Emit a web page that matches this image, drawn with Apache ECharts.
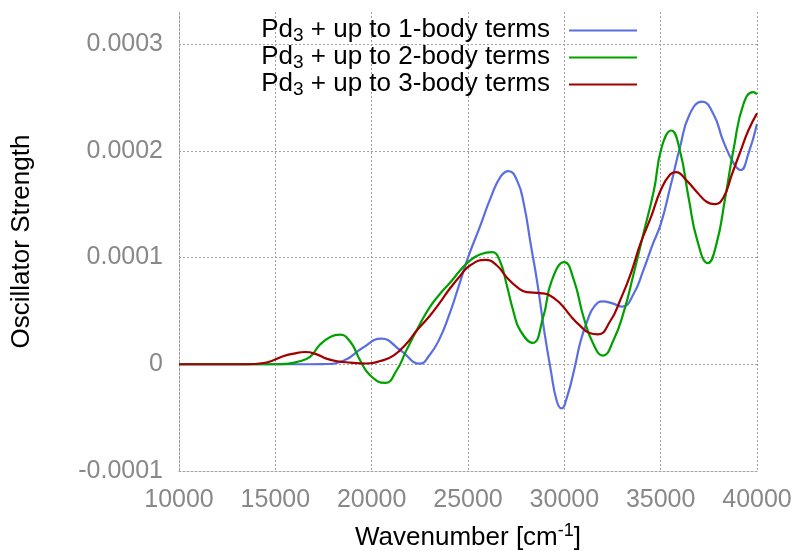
<!DOCTYPE html>
<html>
<head>
<meta charset="utf-8">
<script src="https://cdn.jsdelivr.net/npm/echarts@6/dist/echarts.min.js"></script>
<style>
  html, body { margin: 0; padding: 0; background: #fff; }
  #chart { width: 797px; height: 551px; }
</style>
</head>
<body>
<div id="chart"></div>
<script>
// series names
const names = ['Pd3 + up to 1-body terms', 'Pd3 + up to 2-body terms', 'Pd3 + up to 3-body terms'];

// 1-body (blue)
const wn1 = [10000, 16000, 17500, 18500, 19500, 20500, 21500, 22500, 23000, 23500, 24000, 24500, 25000,
  25600, 26200, 26700, 27100, 27550, 27900, 28250, 28600, 28950, 29300, 29600, 29850, 30150, 30500,
  30850, 31200, 31550, 32000, 32500, 33000, 33600, 34100, 34600, 35000, 35500, 36000, 36500, 37150,
  37750, 38250, 38800, 39150, 39550, 40000];
const osc1 = [0, 0, 0.0000002, 0.000003, 0.000015, 0.000024, 0.000013, 0.0000005, 0.0000084, 0.000023,
  0.000045, 0.000072, 0.0001, 0.000128, 0.000157, 0.000176, 0.000181, 0.000172, 0.00015, 0.000113,
  0.000076, 0.000032, -0.000006, -0.000034, -0.0000414, -0.00003, -0.000006, 0.000022, 0.000041,
  0.000054, 0.000059, 0.000057, 0.000054, 0.000066, 0.000088, 0.000113, 0.000131, 0.000166, 0.000203,
  0.000234, 0.000246, 0.000234, 0.000209, 0.000188, 0.000182, 0.000197, 0.000225];

// 2-body (green)
const wn2 = [10000, 15000, 15500, 16100, 16800, 17300, 17850, 18350, 18900, 19400, 19900, 20700, 21300,
  21800, 22400, 23000, 23550, 24100, 24600, 25100, 25650, 26250, 26650, 27000, 27350, 27700, 28350,
  28900, 29350, 30000, 30500, 31000, 31500, 32000, 32550, 33100, 33600, 34100, 34650, 35050, 35550,
  36000, 36450, 36900, 37450, 37900, 38350, 38800, 39300, 39800, 40000];
const osc2 = [0, 0, 0.0000003, 0.000002, 0.000007, 0.000018, 0.0000255, 0.0000277, 0.0000208, 0.0000037,
  -0.00001, -0.0000175, -0.0000056, 0.000013, 0.000034, 0.000053, 0.000066, 0.000077, 0.000088, 0.000097,
  0.000103, 0.000105, 0.000097, 0.000075, 0.00005, 0.000032, 0.00002, 0.000044, 0.0000785, 0.0000956,
  0.0000785, 0.000044, 0.0000193, 0.0000081, 0.0000224, 0.00005, 0.000085, 0.000122, 0.000163, 0.000203,
  0.000219, 0.0002, 0.000156, 0.000116, 0.0000947, 0.000113, 0.000156, 0.000203, 0.000244, 0.000255,
  0.000253];

// 3-body (red)
const wn3 = [10000, 13500, 14400, 14900, 15400, 15950, 16550, 17150, 17650, 18200, 18900, 19750, 20450,
  21150, 21800, 22350, 23000, 23550, 24050, 24600, 25100, 25900, 26500, 27000, 27550, 28050, 28750,
  29250, 29800, 30300, 30800, 31300, 31750, 32400, 32900, 33450, 33950, 34500, 35000, 35500, 35800,
  36350, 36900, 37400, 37800, 38250, 38700, 39150, 39550, 40000];
const osc3 = [0, 0, 0.0000012, 0.0000037, 0.0000075, 0.00001, 0.0000115, 0.0000093, 0.0000053, 0.0000028,
  0.0000016, 0.0000007, 0.000003, 0.0000084, 0.0000193, 0.0000318, 0.000045, 0.000058, 0.0000707, 0.000083,
  0.0000925, 0.0000978, 0.0000925, 0.0000816, 0.0000722, 0.0000676, 0.0000667, 0.0000645, 0.0000567,
  0.0000458, 0.0000364, 0.0000293, 0.000028, 0.000041, 0.00006, 0.000085, 0.000113, 0.000138, 0.000163,
  0.000178, 0.00018, 0.000172, 0.000161, 0.000152, 0.00015, 0.000156, 0.000178, 0.0002, 0.000219, 0.000235];

const colors = ['#5a6ee0', '#00a000', '#a00000'];

function pairs(xs, ys) {
  return xs.map((x, i) => [x, ys[i]]);
}

const font = 'Liberation Sans, Arial, sans-serif';
const gridLine = { color: '#a0a0a0', type: [2, 2], width: 1 };

const chart = echarts.init(document.getElementById('chart'));
chart.setOption({
  animation: false,
  grid: { left: 179, right: 40, top: 12, bottom: 80, outerBoundsMode: 'none' },
  legend: {
    orient: 'vertical',
    right: 155,
    top: 11,
    align: 'right',
    icon: 'rect',
    itemWidth: 68,
    itemHeight: 2,
    itemGap: -2,
    data: names,
    formatter: function (name) {
      return '{t|Pd}{s|3}{e|' + name.slice(3) + '}';
    },
    textStyle: {
      fontFamily: font,
      rich: {
        t: { fontSize: 26, color: '#000', fontFamily: font, lineHeight: 18, padding: [0, 0, 2, 0] },
        s: { fontSize: 19, color: '#000', fontFamily: font, lineHeight: 14, padding: [10, 0, 0, 0] },
        e: { fontSize: 26, color: '#000', fontFamily: font, lineHeight: 18, padding: [0, 14, 2, 0] }
      }
    }
  },
  xAxis: {
    type: 'value',
    min: 10000,
    max: 40000,
    interval: 5000,
    name: '{t|Wavenumber [cm}{p|-1}{t|]}',
    nameLocation: 'middle',
    nameGap: 51,
    nameTextStyle: {
      rich: {
        t: { fontSize: 26, color: '#000', fontFamily: font },
        p: { fontSize: 18, color: '#000', fontFamily: font, padding: [0, 0, 13, 0] }
      }
    },
    axisLine: { show: true, onZero: false, lineStyle: gridLine },
    axisTick: { show: false },
    axisLabel: {
      color: '#888', fontSize: 25, fontFamily: font, margin: 17,
      formatter: function (v) { return String(v); }
    },
    splitLine: { show: true, lineStyle: gridLine }
  },
  yAxis: {
    type: 'value',
    min: -0.0001,
    max: 0.00033,
    interval: 0.0001,
    name: 'Oscillator Strength',
    nameLocation: 'middle',
    nameGap: 144,
    nameTextStyle: { fontSize: 26, color: '#000', fontFamily: font },
    axisLine: { show: true, lineStyle: gridLine },
    axisTick: { show: false },
    axisLabel: {
      color: '#888', fontSize: 25, fontFamily: font, margin: 16, showMaxLabel: false,
      formatter: function (v) { return v === 0 ? '0' : v.toFixed(4); }
    },
    splitLine: { show: true, showMaxLine: false, lineStyle: gridLine }
  },
  series: [
    { name: names[0], type: 'line', data: pairs(wn1, osc1) },
    { name: names[1], type: 'line', data: pairs(wn2, osc2) },
    { name: names[2], type: 'line', data: pairs(wn3, osc3) }
  ].map((s, i) => Object.assign(s, {
    color: colors[i],
    smooth: 0.5,
    showSymbol: false,
    lineStyle: { width: 2.2, color: colors[i] }
  }))
});
</script>
</body>
</html>
